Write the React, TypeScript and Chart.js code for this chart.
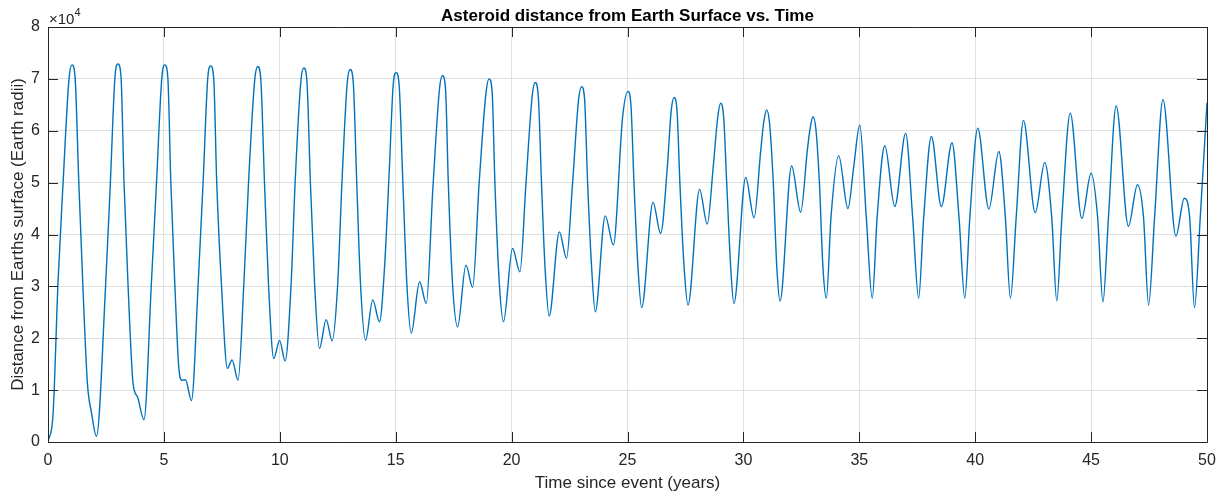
import React, { useEffect, useRef } from 'react';
import { Chart, registerables } from 'chart.js';

Chart.register(...registerables);

// Time since event (years)
const timeYears: number[] = [
  0.0, 0.22, 0.43, 0.65, 0.91, 1.04, 1.17, 1.33, 1.5, 1.7, 1.87, 2.09,
  2.49, 2.69, 2.89, 3.02, 3.15, 3.28, 3.45, 3.67, 3.86, 4.14,
  4.46, 4.68, 4.91, 5.04, 5.17, 5.3, 5.47, 5.64, 5.78, 5.93, 6.19,
  6.48, 6.69, 6.89, 7.02, 7.15, 7.28, 7.48, 7.74, 7.94, 8.2,
  8.45, 8.65, 8.92, 9.05, 9.18, 9.34, 9.51, 9.74, 9.99, 10.23,
  10.49, 10.66, 10.91, 11.04, 11.17, 11.32, 11.5, 11.71, 12.0, 12.26,
  12.5, 12.68, 12.91, 13.04, 13.17, 13.32, 13.48, 13.7, 14.01, 14.3,
  14.52, 14.73, 14.89, 15.02, 15.15, 15.31, 15.48, 15.67, 16.03, 16.32,
  16.6, 16.89, 17.02, 17.15, 17.27, 17.45, 17.67, 18.03, 18.32,
  18.6, 18.9, 19.03, 19.16, 19.28, 19.47, 19.65, 20.04, 20.36,
  20.62, 20.89, 21.02, 21.15, 21.29, 21.44, 21.62, 22.06, 22.37,
  22.63, 22.89, 23.02, 23.15, 23.28, 23.45, 23.61, 24.04, 24.39,
  24.79, 25.02, 25.15, 25.28, 25.45, 25.61, 26.1, 26.43,
  26.72, 26.88, 27.01, 27.14, 27.26, 27.44, 27.61, 28.11, 28.44,
  28.7, 28.89, 29.02, 29.15, 29.28, 29.45, 29.59, 30.1, 30.46,
  30.75, 30.87, 31.0, 31.13, 31.29, 31.44, 31.58, 32.08, 32.47,
  32.76, 32.87, 33.0, 33.13, 33.28, 33.43, 33.58, 33.78, 34.11, 34.51,
  34.76, 35.02, 35.3, 35.56, 35.77, 36.1, 36.53,
  37.0, 37.3, 37.56, 37.78, 38.11, 38.54,
  39.0, 39.3, 39.55, 39.77, 40.11, 40.59,
  41.02, 41.3, 41.52, 41.77, 42.08, 42.59,
  43.0, 43.3, 43.52, 43.74, 44.1, 44.6,
  45.0, 45.28, 45.51, 45.75, 46.08, 46.61,
  47.0, 47.26, 47.48, 47.74, 48.1, 48.66,
  49.02, 49.25, 49.46, 49.71, 50.0,
];

// Distance from Earth's surface (Earth radii)
const distanceEarthRadii: number[] = [
  0, 5500, 30600, 49900, 70200, 72700, 70200, 49900, 30600, 11300, 5800, 1100,
  30600, 49900, 70400, 72900, 70400, 49900, 30600, 11300, 8700, 4300,
  30600, 49900, 70200, 72700, 70200, 49900, 30600, 14500, 11900, 12000, 8000,
  30600, 49900, 70000, 72500, 70000, 49900, 30600, 14200, 15800, 11900,
  30600, 49900, 69900, 72400, 69900, 49900, 30600, 16100, 19600, 15600,
  30600, 49900, 69600, 72100, 69600, 49900, 30600, 18000, 23600, 19500,
  30600, 49900, 69300, 71800, 69300, 49900, 30600, 19600, 27400, 23200,
  33800, 53100, 68700, 71200, 68700, 49900, 30600, 21000, 30900, 26700,
  48600, 68100, 70600, 68100, 49900, 30600, 22200, 34100, 29800,
  49900, 67500, 70000, 67500, 49900, 30600, 23200, 37300, 32800,
  49900, 66800, 69300, 66800, 49900, 33800, 24300, 40500, 35400,
  49900, 66000, 68500, 66000, 49900, 33800, 25100, 43600, 38000,
  62700, 67600, 64800, 49900, 33800, 25900, 46200, 40200,
  53100, 63600, 66400, 63600, 49900, 33800, 26400, 48700, 42000,
  53100, 62500, 65300, 62500, 49900, 33800, 26700, 51000, 43200,
  56300, 61400, 64000, 61400, 49900, 33800, 27200, 53200, 44300,
  56300, 60200, 62700, 60200, 49900, 33800, 27700, 43400, 55200, 45000,
  53100, 61100, 43400, 27700, 43400, 57100, 45400,
  59500, 43400, 27700, 43400, 58900, 45400,
  57700, 43400, 27700, 43400, 60500, 44900,
  56000, 43400, 27700, 43400, 62000, 44200,
  53900, 43400, 27200, 43400, 63400, 43100,
  51800, 43400, 27000, 43400, 64800, 41600,
  49600, 43400, 26400, 43400, 66000, 39700,
  47000, 43400, 25900, 43400, 65400,
];

const xTickValues: number[] = [0, 5, 10, 15, 20, 25, 30, 35, 40, 45, 50];
const yTickValues: number[] = [0, 10000, 20000, 30000, 40000, 50000, 60000, 70000, 80000];

const chartTitle = 'Asteroid distance from Earth Surface vs. Time';
const xAxisTitle = 'Time since event (years)';
const yAxisTitle = 'Distance from Earths surface (Earth radii)';
const exponentBase = '\u00d710';
const exponentPower = '4';

const FONT = "'Liberation Sans', Arial, Helvetica, sans-serif";
const AXIS_COLOR = '#262626';
const GRID_COLOR = '#e0e0e0';
const LINE_COLOR = '#0072BD';

const matlabBoxPlugin = {
  id: 'matlabBox',
  afterDraw(chart: any) {
    const { ctx, chartArea, scales } = chart;
    const { left, right, top, bottom } = chartArea;
    const xs = scales.x;
    const ys = scales.y;
    ctx.save();
    ctx.strokeStyle = AXIS_COLOR;
    ctx.lineWidth = 1;
    ctx.beginPath();
    ctx.rect(Math.round(left) + 0.5, Math.round(top) + 0.5, Math.round(right - left), Math.round(bottom - top));
    ctx.stroke();
    const tickLen = 10;
    ctx.beginPath();
    xTickValues.forEach((v) => {
      const px = Math.round(xs.getPixelForValue(v)) + 0.5;
      ctx.moveTo(px, bottom);
      ctx.lineTo(px, bottom - tickLen);
      ctx.moveTo(px, top);
      ctx.lineTo(px, top + tickLen);
    });
    yTickValues.forEach((v) => {
      const py = Math.round(ys.getPixelForValue(v)) + 0.5;
      ctx.moveTo(left, py);
      ctx.lineTo(left + tickLen, py);
      ctx.moveTo(right, py);
      ctx.lineTo(right - tickLen, py);
    });
    ctx.stroke();

    // title
    ctx.fillStyle = '#000000';
    ctx.font = `bold 17px ${FONT}`;
    ctx.textAlign = 'center';
    ctx.textBaseline = 'alphabetic';
    ctx.fillText(chartTitle, (left + right) / 2, 21);

    // exponent label
    ctx.fillStyle = AXIS_COLOR;
    ctx.textAlign = 'left';
    ctx.textBaseline = 'alphabetic';
    ctx.font = `15px ${FONT}`;
    ctx.fillText(exponentBase, left + 1, 24);
    const w = ctx.measureText(exponentBase).width;
    ctx.font = `11px ${FONT}`;
    ctx.fillText(exponentPower, left + 1 + w, 16);
    ctx.restore();
  },
};

export default function App() {
  const canvasRef = useRef<HTMLCanvasElement | null>(null);

  useEffect(() => {
    if (!canvasRef.current) return;
    const points = timeYears.map((t, i) => ({ x: t, y: distanceEarthRadii[i] }));
    const chart = new Chart(canvasRef.current, {
      type: 'line',
      data: {
        datasets: [
          {
            data: points,
            borderColor: LINE_COLOR,
            borderWidth: 1.4,
            pointRadius: 0,
            fill: false,
            cubicInterpolationMode: 'monotone',
          },
        ],
      },
      options: {
        responsive: false,
        animation: false,
        devicePixelRatio: 1,
        layout: { padding: { left: 0, right: 18, top: 27, bottom: 0 } },
        plugins: {
          legend: { display: false },
          title: { display: false },
          tooltip: { enabled: false },
        },
        scales: {
          x: {
            type: 'linear',
            min: 0,
            max: 50,
            afterFit: (s: any) => {
              s.height = 56;
            },
            afterBuildTicks: (s: any) => {
              s.ticks = xTickValues.map((v) => ({ value: v }));
            },
            ticks: {
              autoSkip: false,
              maxRotation: 0,
              padding: 9,
              color: AXIS_COLOR,
              font: { family: FONT, size: 16 },
            },
            grid: { color: GRID_COLOR, drawTicks: false, lineWidth: 1 },
            border: { display: false },
            title: {
              display: true,
              text: xAxisTitle,
              color: AXIS_COLOR,
              font: { family: FONT, size: 17 },
              padding: { top: 0, bottom: 4 },
            },
          },
          y: {
            type: 'linear',
            min: 0,
            max: 80000,
            afterFit: (s: any) => {
              s.width = 48;
            },
            afterBuildTicks: (s: any) => {
              s.ticks = yTickValues.map((v) => ({ value: v }));
            },
            ticks: {
              autoSkip: false,
              padding: 8,
              color: AXIS_COLOR,
              font: { family: FONT, size: 16 },
              callback: (v: any) => String(Number(v) / 10000),
            },
            grid: { color: GRID_COLOR, drawTicks: false, lineWidth: 1 },
            border: { display: false },
            title: {
              display: true,
              text: yAxisTitle,
              color: AXIS_COLOR,
              font: { family: FONT, size: 17 },
              padding: { top: 8, bottom: 0 },
            },
          },
        },
      },
      plugins: [matlabBoxPlugin],
    } as any);
    return () => chart.destroy();
  }, []);

  return (
    <div style={{ position: 'absolute', left: 0, top: 0, width: 1225, height: 498, background: '#ffffff' }}>
      <canvas ref={canvasRef} width={1225} height={498} style={{ display: 'block' }} />
    </div>
  );
}
